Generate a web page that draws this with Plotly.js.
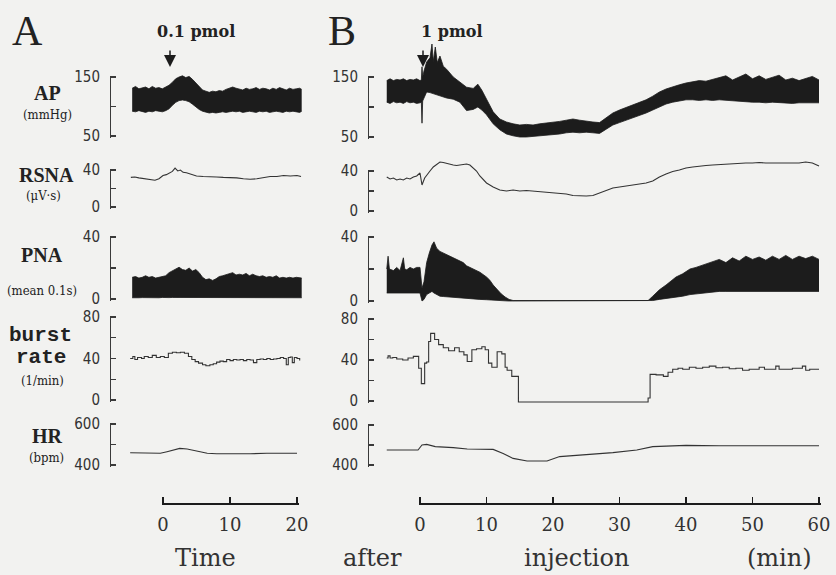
<!DOCTYPE html>
<html><head><meta charset="utf-8">
<script src="https://cdn.plot.ly/plotly-3.0.1.min.js"></script>
<style>html,body{margin:0;padding:0;background:#f2f2f0}#chart{width:836px;height:575px}</style>
</head><body><div id="chart"></div>
<script>
// ---------------- DATA ----------------
// Panel A (0.1 pmol), time in min after injection
const tA_ap = [-4.6,-4.1,-3.6,-3.1,-2.6,-2.1,-1.6,-1.1,-0.6,-0.1,0.4,0.9,1.4,1.9,2.4,2.9,3.4,3.9,4.4,4.9,5.4,5.9,6.4,6.9,7.4,7.9,8.4,8.9,9.4,9.9,10.4,10.9,11.4,11.9,12.4,12.9,13.4,13.9,14.4,14.9,15.4,15.9,16.4,16.9,17.4,17.9,18.4,18.9,19.4,19.9,20.4,20.7];
const apA_hi = [131,134,130,132,133,130,134,131,132,130,133,136,141,147,150,152,149,151,146,140,134,128,126,124,126,125,127,126,129,131,133,131,130,128,131,129,130,132,129,131,130,128,131,129,132,130,128,131,129,130,131,129];
const apA_lo = [92,91,93,92,90,92,91,93,92,91,93,96,102,107,110,111,110,108,104,99,95,92,90,89,90,89,90,91,90,91,92,91,92,90,91,92,91,90,92,91,92,90,91,92,91,90,92,91,92,91,90,92];
const tA_rsna = [-4.8,-4.2,-3.6,-3,-2.4,-1.8,-1.2,-0.6,0,0.5,1,1.4,1.8,2.2,2.6,3,3.5,4,4.5,5,6,7,8,9,10,11,12,13,14,15,16,17,18,19,20,20.6];
const rsnaA = [32,32.5,31.5,31,30.5,30,29,30.5,34,35,37,38.5,42,39,40,37.5,37,36,35,33.5,33,33,32.5,32,32,31.5,30.5,30,30.5,32,33,33,34,33.5,34,33];
const pnaA_hi = [14,14.5,13.5,14,15,14,14.5,13.5,14,14.5,15,17,18,19,20.5,19,18.5,20,18,19,17,14,12.5,13,12,13,14.5,15,15.5,16,17,15.5,16,15.5,16.5,15,16,15,14.5,15,14,14.5,14,15,13.5,14,13.5,14,13.5,14,13.5,13.5];
const pnaA_lo = [0.8,1,0.8,0.9,0.8,1,0.8,0.9,0.8,1,0.8,0.9,1,1,0.8,0.9,1,0.8,0.9,0.8,1,0.8,0.9,0.8,1,0.8,0.9,0.8,1,0.8,0.9,0.8,1,0.8,0.9,0.8,1,0.8,0.9,0.8,1,0.8,0.9,0.8,1,0.8,0.9,0.8,1,0.8,0.9,0.8];
const tA_burst = [-4.9,-4.5,-4.2,-3.8,-3.2,-2.8,-2.2,-1.6,-1,-0.4,0.2,0.8,1.4,2,2.6,3.2,3.8,4.3,4.8,5.3,5.9,6.4,7,7.5,8,8.5,9,9.5,10,10.5,11,11.5,12,12.5,13,13.5,14,14.5,15,15.5,16,16.5,17,17.5,18,18.4,18.7,19,19.3,19.6,20,20.4];
const burstA = [40,42,39,41,40,42,41,43,41,42,41,45,46,45.5,46,45,42,39,37,35.5,34,33,34,35,36.5,37.5,37,39,38,39,38.5,39,38,39,38.5,36,39,39.5,39,40,39,39.5,40,41,40,34,41,41.5,36,41,40,38];
const tA_hr = [-4.9,-3,-1,-0.4,0.6,1.5,2.5,3.6,4.5,5.5,6.6,8,10.4,13,15.5,18,20];
const hrA = [460,458,457,457,465,473,481,478,471,465,457,455,454,455,457,457,457];

// Panel B (1 pmol)
const tB_ap = [-5,-4.5,-4,-3.5,-3,-2.5,-2,-1.5,-1,-0.5,0,0.2,0.3,0.4,0.6,1,1.5,1.8,2,2.3,2.6,3,3.5,4,5,6,7,8,8.7,9.3,10,11,12,13,14,15,16,17,18,19,20,21,22,23,24,25,26,27,28,29,30,31,32,33,34,35,36,37,38,39,40,41,42,43,44,45,46,47,48,49,50,51,52,53,54,55,56,57,58,59,60];
const apB_hi = [144,147,144,146,145,147,144,146,145,147,144,145,167,150,160,175,182,205,176,200,174,185,168,163,150,142,133,131,138,128,114,92,80,75,72,70,71,70,72,73,74,76,78,80,78,76,75,74,82,90,95,99,104,108,112,118,125,130,134,137,140,142,144,143,146,148,152,145,150,155,147,152,146,150,153,145,148,144,147,151,145];
const apB_lo = [108,106,109,107,108,106,109,107,108,106,107,108,73,110,115,125,124,123,122,121,120,118,117,115,113,108,94,96,100,95,87,72,62,55,52,50,50,51,52,53,53,55,57,58,57,58,57,56,63,70,74,78,81,85,90,95,100,105,108,110,112,112,111,112,111,112,111,110,109,109,108,108,107,108,107,107,106,107,107,106,107];
const tB_rsna = [-5,-4.5,-4,-3.5,-3,-2.5,-2,-1.5,-1,-0.5,0,0.3,0.7,1.1,1.5,2,2.5,3,3.5,4,4.5,5,5.5,6,6.5,7,7.5,8,8.5,9,9.5,10,10.5,11,12,13,14,15,16,17,18,19,20,21,22,23,24,25,26,27,28,29,30,31,32,33,34,35,36,37,38,39,40,41,42,43,44,45,46,47,48,49,50,51,52,53,54,55,56,57,58,59,60];
const rsnaB = [34,32,33,31,32,31,33,32,34,35,38,26,33,36,40,44,47,49,48.5,47.5,47,46,45.5,46,46.5,47,46,43,40,35,31,28,26,24,21,20,21,20,20.5,20,19.5,19,18.5,18,17,15.5,15,15,15.5,18,21,23,24,25,26,27,28,30,34,37,39.5,41,43,44,45,45.5,46,46.5,47,47,47.5,48,48,48.5,48,48,48.5,48,48.5,48,49,48,45];
const tB_pna = [-5,-4.8,-4.6,-4,-3.5,-3,-2.5,-2.3,-2,-1.5,-1,-0.5,0,0.3,0.6,1,1.4,1.8,2.1,2.5,3,3.5,4,4.5,5,5.5,6,6.5,7,7.5,8,9,10,10.5,11,11.6,12.2,12.8,13.4,14,20,25,30,34.3,35,36,37,37.6,38.5,39.5,40.6,41.5,42.9,44,45,46,47,48,49,50,51,52,53,54,55,56,57,58,59,60];
const pnaB_hi = [20,28,20,19,21,19,27,20,19.5,21,20,21,21,8,12,24,30,35,37,33,31,30,29,28,27,26.5,25.5,24,22,21,19.5,18,15,13,10,7,4.5,2.5,1,0.3,0.3,0.3,0.3,0.3,3,7,10,12,15,17,20,21,23,24.5,26,24,27,25,28,26,27.5,25.5,28,26,28.5,26,28,26.5,28,26];
const pnaB_lo = [5,5,5,5,5,5,5,5,5,5,5,5,5,0,1,4,5,6,5,4,3,2.8,2.6,2.4,2.2,2,2,1.8,1.6,1.4,1.2,1,0.8,0.6,0.4,0.3,0.2,0.1,0,0,0,0,0,0,0.3,1,1.5,2,2.5,3,4,4.5,5,5.5,6,6,6,6,6,6,6,6,6,6,6,6,6,6,6,6];
const tB_burst = [-5,-4.8,-4.5,-4.1,-3.5,-2.6,-1.8,-1,-0.2,0.2,0.7,1.0,1.3,1.6,2.2,2.8,3.5,4.3,5.2,5.9,6.6,7.1,7.8,8.5,9.3,9.8,10.3,10.8,11.6,12.3,12.8,13.1,13.8,14.8,34.3,34.6,35.5,36.6,37.3,38,38.8,39.5,40.5,41.5,42.5,43.5,44.5,45.5,46.5,47.5,48.5,49.5,50.5,51,51.8,53.5,54,56,57.5,58,58.6,60];
const burstB = [42,44,42,42.5,41,40,42,43.5,32,17,37,38,58,66,60,55,52,49,52,48,45,38.5,50,51,53,50,37,33,48,46,33,30,24,-1,3,26,25.5,24,28,31,32,31,33,32,33,34,32.5,33,31.5,32,30,31,31,33,31,34,31,32,34,30,31,31];
const tB_hr = [-5,-3,-1,-0.3,0.3,1,2.3,3.5,5,7.1,9,11,12.5,14,16.1,19.1,21,23,25.1,27,29,31,32.6,35,37.6,40,45,50,55,60];
const hrB = [475,475,476,475,500,503,492,490,487,480,479,478,458,433,420,420,442,448,453,457,462,468,475,492,497,498,496,497,496,496];

// Tick values / labels
const bracketTicks = [[50,100,150],[0,20,40],[0,20,40],[0,20,40,60,80],[400,500,600]];
const bracketText  = [['50','','150'],['0','','40'],['0','','40'],['0','','40','','80'],['400','','600']];
const timeTicksA = [0,10,20];
const timeTicksB = [0,10,20,30,40,50,60];

// ---------------- LAYOUT ----------------
const W=836, H=575;
const X = px => px/W, Y = py => 1 - py/H;
const ink = '#1c1c1c';
const E = 1.5; // px of axis line beyond the end ticks (keeps end ticks drawn)
const cols = [
  {t0:163, ppm:6.7, left:125, right:310, bx:110, xa:'x'},
  {t0:420, ppm:6.65, left:380, right:825, bx:368, xa:'x2'}
];
const rows = [
  [{top:77,bot:136,vhi:150,vlo:50},{top:77,bot:137,vhi:150,vlo:50}],
  [{top:170,bot:207,vhi:40,vlo:0},{top:171,bot:211,vhi:40,vlo:0}],
  [{top:237,bot:299,vhi:40,vlo:0},{top:237,bot:301,vhi:40,vlo:0}],
  [{top:317,bot:400,vhi:80,vlo:0},{top:319,bot:401,vhi:80,vlo:0}],
  [{top:424,bot:465,vhi:600,vlo:400},{top:425,bot:465,vhi:600,vlo:400}]
];
const bands = [[35,152],[152,226],[226,310],[310,413],[413,480]];

const layout = {
  width:W, height:H, margin:{l:0,r:0,t:0,b:0},
  paper_bgcolor:'#f2f2f0', plot_bgcolor:'rgba(0,0,0,0)', showlegend:false,
  annotations:[]
};
cols.forEach((c,ci)=>{
  const key = ci===0 ? 'xaxis' : 'xaxis2';
  layout[key] = {domain:[X(c.left),X(c.right)], range:[(c.left-c.t0)/c.ppm,(c.right-c.t0)/c.ppm],
    visible:false, anchor: ci===0?'y':'y6', fixedrange:true};
});
function yk(n){ return n===1 ? 'yaxis' : 'yaxis'+n; }
function yr(n){ return n===1 ? 'y' : 'y'+n; }
const traces = [];
for(let r=0;r<5;r++){
  for(let ci=0;ci<2;ci++){
    const m = rows[r][ci], c = cols[ci];
    const k = (m.vhi-m.vlo)/(m.bot-m.top);
    const v = py => m.vlo + (m.bot-py)*k;
    const dn = 1 + r + ci*5, bn = 11 + r + ci*5;
    layout[yk(dn)] = {domain:[Y(bands[r][1]),Y(bands[r][0])], range:[v(bands[r][1]),v(bands[r][0])],
      visible:false, anchor:c.xa, fixedrange:true};
    layout[yk(bn)] = {domain:[Y(m.bot+E),Y(m.top-E)], range:[v(m.bot+E),v(m.top-E)], anchor:'free', position:X(c.bx),
      showline:true, linecolor:'#3a3a3a', linewidth:1.2, ticks:'inside', ticklen:5, tickcolor:'#3a3a3a', tickwidth:1.2,
      tickmode:'array', tickvals:bracketTicks[r], ticktext:bracketText[r], showgrid:false, zeroline:false,
      ticklabelstandoff:7, tickfont:{family:'Liberation Sans Narrow, DejaVu Sans Condensed, sans-serif', size:15, color:'#333'}, fixedrange:true};
    traces.push({x:[null], y:[null], xaxis:c.xa, yaxis:yr(bn), mode:'lines', hoverinfo:'skip'});
  }
}
function band(t, hi, lo, xa, ya){
  traces.push({x:t, y:hi, xaxis:xa, yaxis:ya, mode:'lines', line:{color:ink,width:0.8}, hoverinfo:'skip'});
  traces.push({x:t, y:lo, xaxis:xa, yaxis:ya, mode:'lines', line:{color:ink,width:0.8}, fill:'tonexty', fillcolor:ink, hoverinfo:'skip'});
}
function line(t, y, xa, ya, shape){
  traces.push({x:t, y:y, xaxis:xa, yaxis:ya, mode:'lines', line:{color:'#333',width:1.1, shape:shape||'linear'}, hoverinfo:'skip'});
}
band(tA_ap, apA_hi, apA_lo, 'x', 'y');
line(tA_rsna, rsnaA, 'x', 'y2');
band(tA_ap, pnaA_hi, pnaA_lo, 'x', 'y3');
line(tA_burst, burstA, 'x', 'y4', 'hv');
line(tA_hr, hrA, 'x', 'y5');
band(tB_ap, apB_hi, apB_lo, 'x2', 'y6');
line(tB_rsna, rsnaB, 'x2', 'y7');
band(tB_pna, pnaB_hi, pnaB_lo, 'x2', 'y8');
line(tB_burst, burstB, 'x2', 'y9', 'hv');
line(tB_hr, hrB, 'x2', 'y10');

// time bars
const timeAx = (x0, x1, tmax, tv) => {
  const ppm = (x1-x0)/tmax, e = E/ppm;
  return {domain:[X(x0-E),X(x1+E)], range:[-e,tmax+e], anchor:'free', position:Y(504), showline:true, linecolor:ink, linewidth:2,
  ticks:'inside', ticklen:6, tickwidth:1.3, tickcolor:ink, tickmode:'array', tickvals:tv, showgrid:false, zeroline:false,
  ticklabelstandoff:4, tickfont:{family:'DejaVu Serif, serif', size:18, color:'#333'}, fixedrange:true};
};
layout.xaxis3 = timeAx(163, 297, 20, timeTicksA);
layout.xaxis4 = timeAx(420, 819, 60, timeTicksB);
traces.push({x:[null], y:[null], xaxis:'x3', yaxis:'y', mode:'lines', hoverinfo:'skip'});
traces.push({x:[null], y:[null], xaxis:'x4', yaxis:'y6', mode:'lines', hoverinfo:'skip'});

// text
const A = layout.annotations;
function txt(s, px, py, font){ A.push({text:s, x:X(px), y:Y(py), xref:'paper', yref:'paper', showarrow:false, xanchor:'center', yanchor:'middle', font:font}); }
const big = {family:'Liberation Serif, serif', size:42, color:'#222'};
const lab = {family:'Liberation Serif, serif', size:20, color:'#222', weight:'bold'};
const mono = {family:'Liberation Mono, monospace', size:21, color:'#222', weight:'bold'};
const unit = {family:'DejaVu Serif Condensed, Liberation Serif, serif', size:13, color:'#222'};
const pm = {family:'DejaVu Serif, serif', size:16, color:'#222', weight:'bold'};
const ttl = {family:'DejaVu Serif, serif', size:24, color:'#333'};
txt('A', 27, 31, big);
txt('B', 342, 31, big);
txt('0.1 pmol', 196, 32, pm);
txt('1 pmol', 452, 31, pm);
txt('AP', 47, 93, lab); txt('(mmHg)', 47, 115, unit);
txt('RSNA', 46, 175, lab); txt('(\u03bcV\u00b7s)', 43, 195, unit);
txt('PNA', 42, 255, lab); txt('(mean 0.1s)', 42, 290, unit);
txt('burst', 40, 335, mono); txt('rate', 41, 357, mono); txt('(1/min)', 42, 380, unit);
txt('HR', 47, 436, lab); txt('(bpm)', 46, 457, unit);
txt('Time', 205, 558, ttl); txt('after', 372, 558, ttl); txt('injection', 576, 558, ttl); txt('(min)', 779, 558, ttl);
// injection arrows
[[170,67],[423,67]].forEach(p=>A.push({text:'', x:X(p[0]), y:Y(p[1]), xref:'paper', yref:'paper', showarrow:true, ax:0, ay:-18,
  arrowhead:2, arrowsize:1.6, arrowwidth:1.5, arrowcolor:ink}));

Plotly.newPlot('chart', traces, layout, {staticPlot:true, displayModeBar:false});
</script></body></html>
